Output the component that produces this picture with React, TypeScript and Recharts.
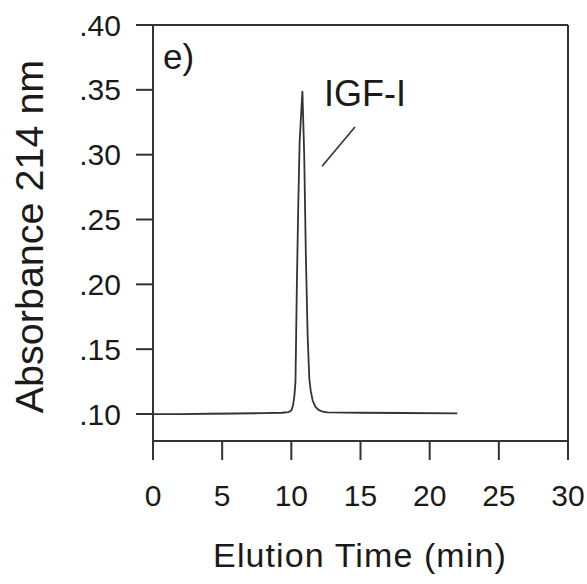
import React from "react";
import {
  LineChart, Line, XAxis, YAxis, ReferenceLine,
} from "recharts";

// elution time (min) and absorbance at 214 nm
const times = [
  0, 2, 4, 6, 8, 9.3, 9.8, 10.0, 10.12, 10.22, 10.3, 10.4, 10.5, 10.6, 10.8,
  10.93, 11.05, 11.18, 11.3, 11.4, 11.55, 11.75, 11.95, 12.2, 12.6, 15, 18, 22,
];
const absorbance = [
  0.1, 0.1, 0.1002, 0.1004, 0.1007, 0.101, 0.1015, 0.1028, 0.1065, 0.114, 0.125, 0.2, 0.26, 0.31, 0.349,
  0.3, 0.222, 0.16, 0.127, 0.118, 0.11, 0.1055, 0.1033, 0.102, 0.1013, 0.101, 0.1008, 0.1005,
];

const xTicks = [0, 5, 10, 15, 20, 25, 30];
const yTicks = [0.1, 0.15, 0.2, 0.25, 0.3, 0.35, 0.4];

// pointer line next to the peak label, in data units
const pointerLine = [
  { x: 12.22, y: 0.291 },
  { x: 14.6, y: 0.3214 },
];

const data = times.map((t, i) => ({ t, a: absorbance[i] }));

const FONT = "'Liberation Sans', Arial, Helvetica, sans-serif";
const INK = "#333";
const tickStyle = { fontSize: 30, fill: "#1a1a1a", fontFamily: FONT };

const fmtY = (v: number) => v.toFixed(2).replace(/^0/, "");

export default function App() {
  return (
    <div style={{ position: "absolute", left: 0, top: 0, width: 587, height: 584, background: "#fff" }}>
      <LineChart
        width={587}
        height={584}
        data={data}
        margin={{ top: 25, right: 19, left: 93, bottom: 83 }}
      >
        <XAxis
          dataKey="t"
          type="number"
          domain={[0, 30]}
          ticks={xTicks}
          height={60}
          tick={tickStyle}
          tickSize={19}
          tickMargin={25}
          stroke={INK}
          strokeWidth={2}
        />
        <YAxis
          type="number"
          domain={[0.0792, 0.4]}
          ticks={yTicks}
          tickFormatter={fmtY}
          width={60}
          tick={tickStyle}
          tickSize={17}
          tickMargin={15}
          stroke={INK}
          strokeWidth={2}
        />
        <ReferenceLine y={0.4} stroke={INK} strokeWidth={2} />
        <ReferenceLine x={30} stroke={INK} strokeWidth={2} />
        <ReferenceLine segment={pointerLine} stroke={INK} strokeWidth={1.6} />
        <Line
          type="linear"
          dataKey="a"
          stroke={INK}
          strokeWidth={1.8}
          dot={false}
          isAnimationActive={false}
        />
      </LineChart>
      <svg
        width={587}
        height={584}
        style={{ position: "absolute", left: 0, top: 0, pointerEvents: "none" }}
      >
        <text x={163} y={69} fontSize={35} fontFamily={FONT} fill="#1a1a1a">e)</text>
        <text x={324} y={106} fontSize={36} fontFamily={FONT} fill="#1a1a1a">IGF-I</text>
        <text
          x={43}
          y={236.5}
          transform="rotate(-90, 43, 236.5)"
          textAnchor="middle"
          fontSize={39.5}
          fontFamily={FONT}
          fill="#1a1a1a"
        >
          Absorbance 214 nm
        </text>
        <text
          x={360}
          y={567}
          textAnchor="middle"
          fontSize={34}
          letterSpacing={1.1}
          fontFamily={FONT}
          fill="#1a1a1a"
        >
          Elution Time (min)
        </text>
      </svg>
    </div>
  );
}
